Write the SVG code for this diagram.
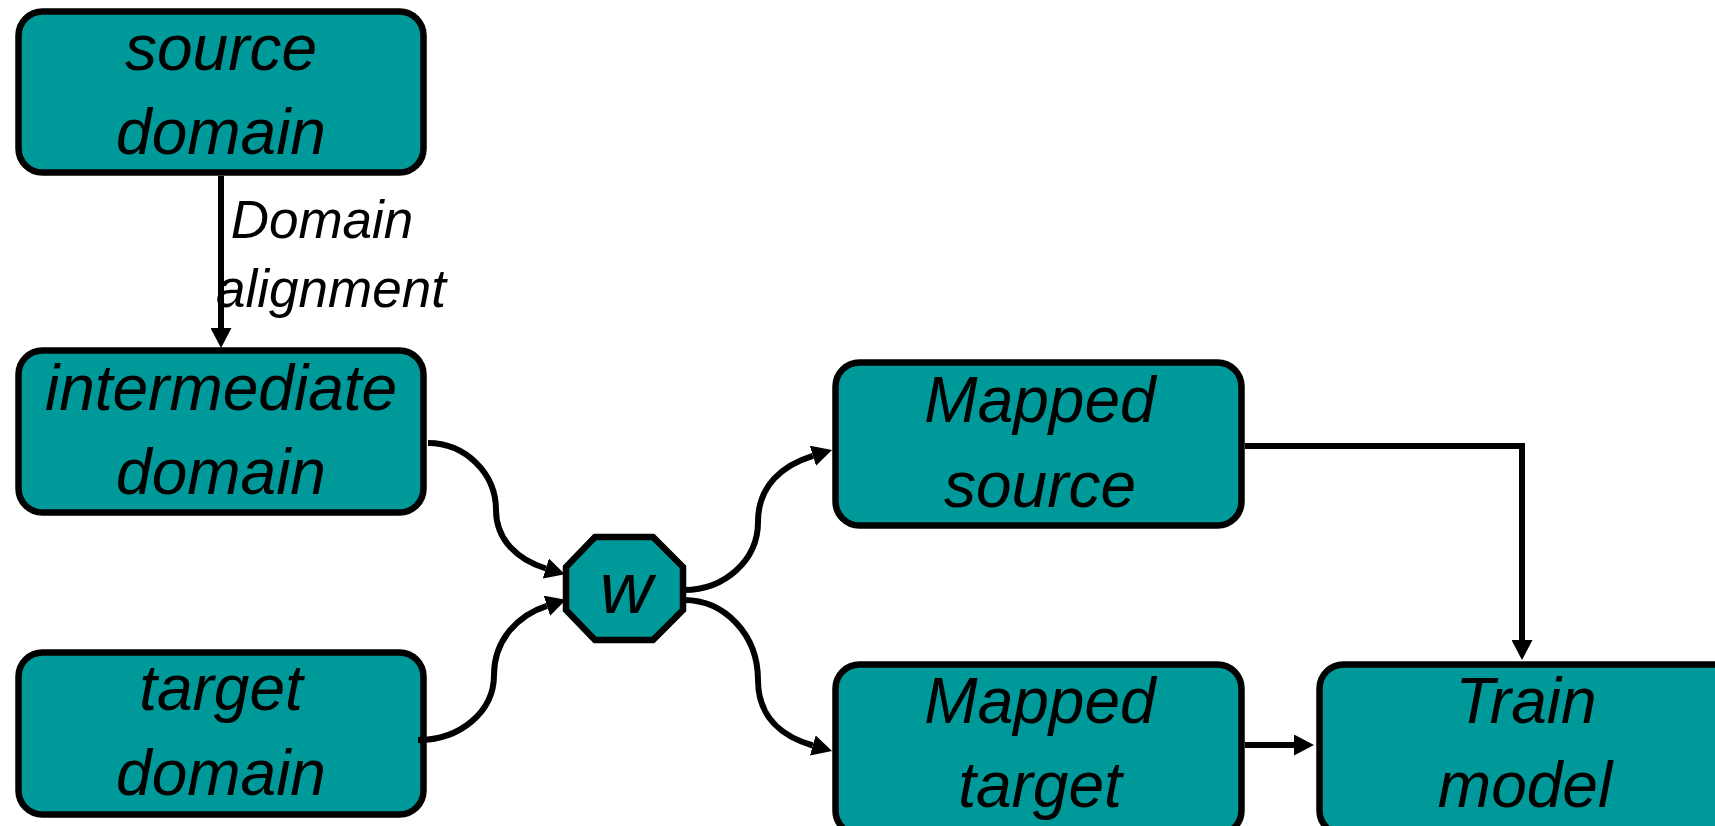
<svg xmlns="http://www.w3.org/2000/svg" width="1715" height="826" viewBox="0 0 1715 826">
<style>
.box{fill:#009999;stroke:#000;stroke-width:6.5}
.t{font-family:"Liberation Sans",Arial,sans-serif;font-style:italic;font-size:64px;fill:#000;text-anchor:middle}
.lbl{font-family:"Liberation Sans",Arial,sans-serif;font-style:italic;font-size:53px;fill:#000;text-anchor:middle}
.c{fill:none;stroke:#000;stroke-width:6}
</style>
<defs>
<marker id="ah" viewBox="0 0 20 21" refX="0" refY="10.5" markerWidth="20" markerHeight="21" markerUnits="userSpaceOnUse" orient="auto">
<path d="M0,0 L20,10.5 L0,21 z" fill="#000"/>
</marker>
</defs>
<rect width="1715" height="826" fill="#fff"/>
<g id="source">
<rect class="box" x="18.5" y="11.5" width="405" height="161" rx="24"/>
<text class="t" x="221" y="70">source</text>
<text class="t" x="221" y="154">domain</text>
</g>
<g id="intermediate">
<rect class="box" x="18.5" y="350.5" width="405" height="162" rx="24"/>
<text class="t" x="221" y="410">intermediate</text>
<text class="t" x="221" y="494">domain</text>
</g>
<g id="target">
<rect class="box" x="18.5" y="652.5" width="405" height="162" rx="24"/>
<text class="t" x="221" y="710">target</text>
<text class="t" x="221" y="795">domain</text>
</g>
<g id="w">
<polygon class="box" points="595,537 653,537 683,567 683,610 653,640 595,640 566,610 566,567"/>
<text class="t" x="626" y="613" style="font-size:73px">w</text>
</g>
<g id="mapped-source">
<rect class="box" x="835.5" y="362.5" width="406" height="163" rx="24"/>
<text class="t" x="1040" y="422">Mapped</text>
<text class="t" x="1040" y="507">source</text>
</g>
<g id="mapped-target">
<rect class="box" x="835.5" y="664.5" width="406" height="170" rx="24"/>
<text class="t" x="1040" y="723">Mapped</text>
<text class="t" x="1040" y="807">target</text>
</g>
<g id="train">
<rect class="box" x="1319.5" y="664.5" width="420" height="170" rx="24"/>
<text class="t" x="1526" y="723">Train</text>
<text class="t" x="1525" y="807">model</text>
</g>
<g id="connectors">
<path class="c" d="M221,176 L221,328" marker-end="url(#ah)"/>
<path class="c" d="M428,443 C465,443 496,473 496,510 C496,540 518,560 545.8,568.5" marker-end="url(#ah)"/>
<path class="c" d="M418,740 C460,740 494,712 494,675 C494,640 518,615 546.9,605.8" marker-end="url(#ah)"/>
<path class="c" d="M684,590 C725,590 758,560 758,522 C758,485 783,465 812.9,455.8" marker-end="url(#ah)"/>
<path class="c" d="M684,600 C725,600 758,635 758,680 C758,718 783,737 812.8,745.5" marker-end="url(#ah)"/>
<path class="c" d="M1245,446 L1522,446 L1522,640" marker-end="url(#ah)"/>
<path class="c" d="M1245,745 L1294,745" marker-end="url(#ah)"/>
<text class="lbl" x="322" y="238">Domain</text>
<text class="lbl" x="331" y="307">alignment</text>
</g>
</svg>
